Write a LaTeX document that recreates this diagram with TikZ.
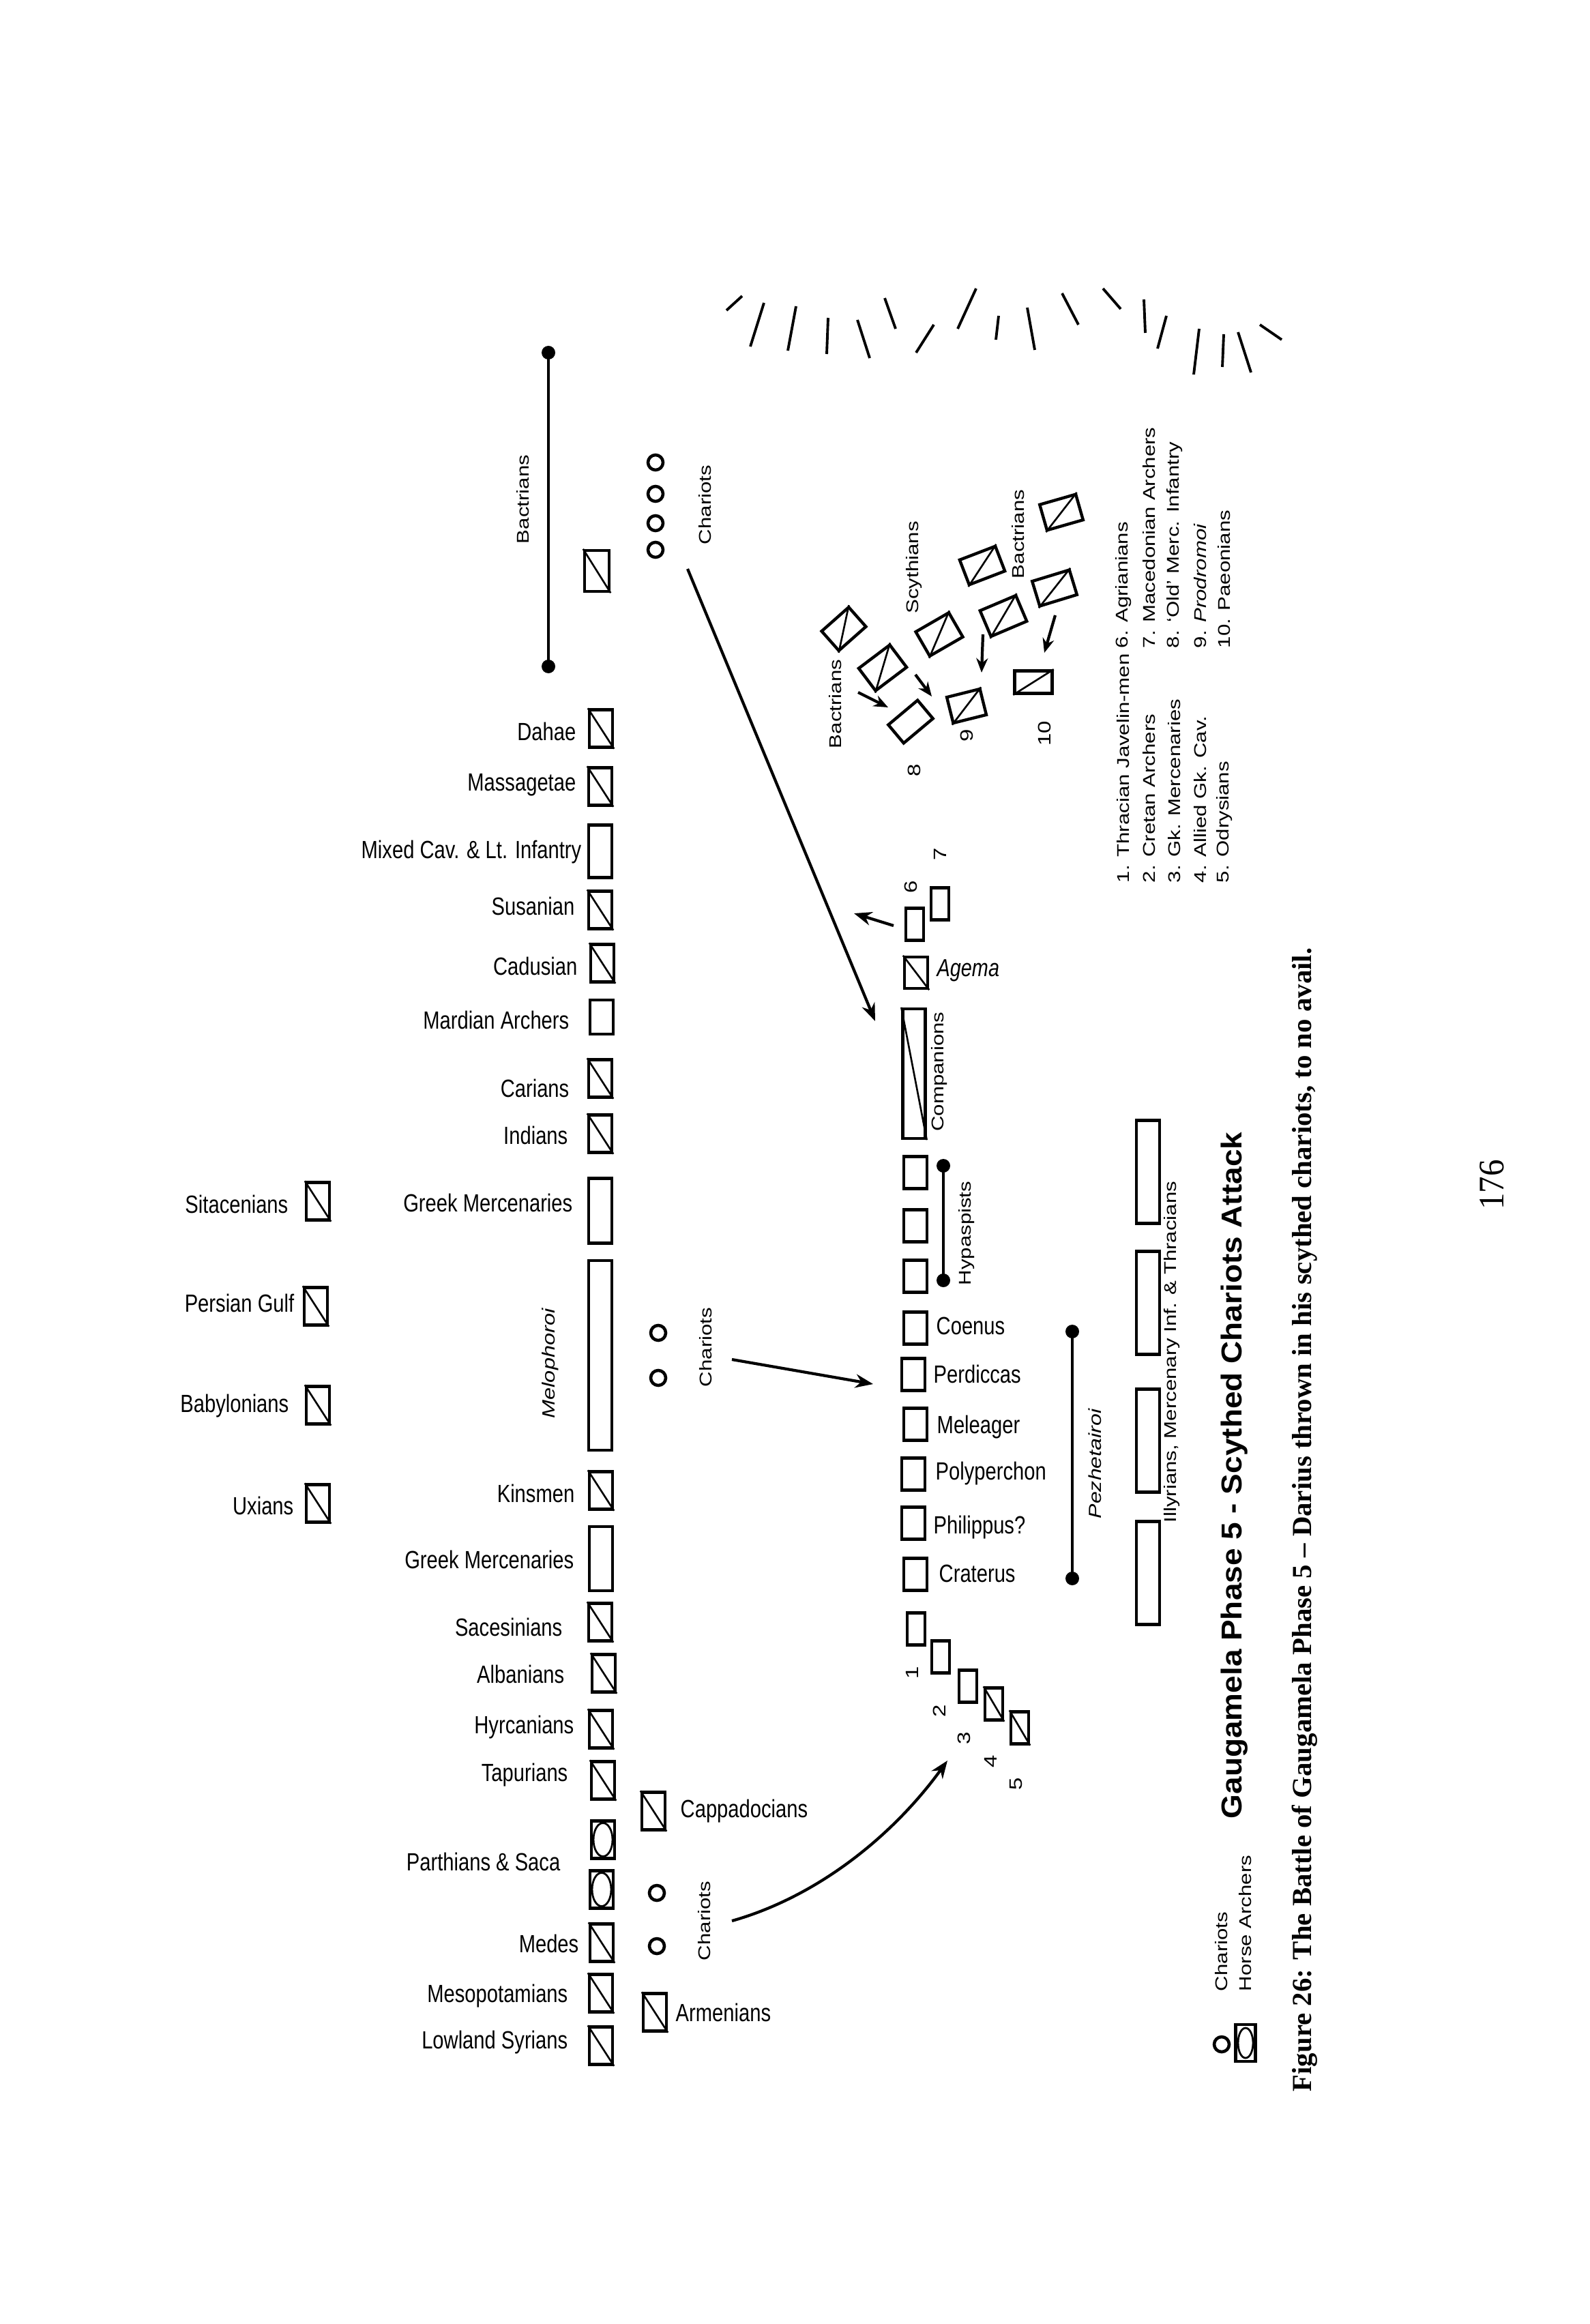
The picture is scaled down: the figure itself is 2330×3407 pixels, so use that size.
\documentclass[tikz,border=0pt]{standalone}
\usepackage{fontspec}
\setmainfont{Liberation Serif}
\setsansfont{Liberation Sans}
\usetikzlibrary{arrows.meta}

\tikzset{
  unit/.style={draw, line width=1.25pt, inner sep=0pt, minimum width=3.4mm, minimum height=5.5mm},
  cav/.style={unit, append after command={(\tikzlastnode.north west) edge[line width=0.75pt] (\tikzlastnode.south east)}},
  cavtilt/.style={unit, append after command={(\tikzlastnode.south west) edge[line width=0.75pt] (\tikzlastnode.north east)}},
  horsearch/.style={unit, path picture={\draw[line width=0.8pt] (path picture bounding box.center) ellipse [x radius=1.4mm, y radius=2.45mm];}},
  foot/.style={unit, minimum width=3.4mm, minimum height=4.7mm},
  light/.style={unit, minimum width=2.6mm, minimum height=4.7mm},
  chariot/.style={draw, circle, line width=1.3pt, minimum size=2.2mm, inner sep=0pt},
  leader/.style={line width=1.2pt},
  lab/.style={font=\sffamily\fontsize{8.3}{10}\selectfont, inner sep=0pt, yscale=1.25},
  vlab/.style={font=\sffamily\fontsize{7.1}{8.5}\selectfont, inner sep=0pt, yscale=1.25, rotate=90},
  num/.style={vlab, font=\sffamily\fontsize{7.5}{9}\selectfont},
}

\begin{document}
\begin{tikzpicture}[x=0.1mm, y=-0.1mm, >={Stealth[length=2.6mm, width=2mm]}]
  \fill[white] (0,0) rectangle (2330,3407);
  \useasboundingbox (0,0) rectangle (2330,3407);

  % Persian left wing
  \coordinate (bac-a) at (804,517);
  \coordinate (bac-b) at (804,977);
  \draw[leader] (bac-a) -- (bac-b);
  \fill (bac-a) circle (1mm) (bac-b) circle (1mm);
  \node[vlab] (l-bac) at (767,732) {Bactrians};
  \node[cav, minimum width=3.6mm, minimum height=6mm] (bac) at (875,837) {};

  \node[chariot] (ch1a) at (961,678) {};
  \node[chariot] (ch1b) at (961,724) {};
  \node[chariot] (ch1c) at (961,767) {};
  \node[chariot] (ch1d) at (961,806) {};
  \node[vlab] (l-ch1) at (1034,740) {Chariots};

  % Persian main line
  \node[cav] (dahae) at (881,1068) {};
  \node[lab, anchor=east] (l-dahae) at (845,1072) {Dahae};
  \node[cav] (massag) at (880,1153) {};
  \node[lab, anchor=east] (l-massag) at (845,1151) {Massagetae};
  \node[unit, minimum height=7.7mm] (mixed) at (880,1248) {};
  \node[lab, anchor=east] (l-mixed) at (853,1249) {Mixed Cav. \& Lt. Infantry};
  \node[cav] (susa) at (880,1334) {};
  \node[lab, anchor=east] (l-susa) at (843,1328) {Susanian};
  \node[cav] (cadus) at (883,1412) {};
  \node[lab, anchor=east] (l-cadus) at (847,1416) {Cadusian};
  \node[unit, minimum height=5mm] (mardi) at (882,1491) {};
  \node[lab, anchor=east] (l-mardi) at (835,1495) {Mardian Archers};
  \node[cav] (caria) at (880,1581) {};
  \node[lab, anchor=east] (l-caria) at (835,1595) {Carians};
  \node[cav] (india) at (880,1662) {};
  \node[lab, anchor=east] (l-india) at (833,1664) {Indians};
  \node[unit, minimum height=9.5mm] (gmerc1) at (880,1775) {};
  \node[lab, anchor=east] (l-gmerc1) at (840,1763) {Greek Mercenaries};
  \node[unit, minimum height=27.8mm] (melo) at (880,1987) {};
  \node[vlab, font=\sffamily\itshape\fontsize{7.4}{9}\selectfont] (l-melo) at (807,1999) {Melophoroi};
  \node[cav] (kins) at (881,2185) {};
  \node[lab, anchor=east] (l-kins) at (843,2189) {Kinsmen};
  \node[unit, minimum height=9.4mm] (gmerc2) at (881,2285) {};
  \node[lab, anchor=east] (l-gmerc2) at (842,2286) {Greek Mercenaries};
  \node[cav] (saces) at (880,2378) {};
  \node[lab, anchor=east] (l-saces) at (825,2385) {Sacesinians};
  \node[cav] (alban) at (885,2453) {};
  \node[lab, anchor=east] (l-alban) at (828,2454) {Albanians};
  \node[cav] (hyrca) at (881,2535) {};
  \node[lab, anchor=east] (l-hyrca) at (842,2532) {Hyrcanians};
  \node[cav] (tapur) at (884,2610) {};
  \node[lab, anchor=east] (l-tapur) at (833,2602) {Tapurians};
  \node[horsearch] (parth1) at (884,2697) {};
  \node[horsearch] (parth2) at (882,2770) {};
  \node[lab, anchor=east] (l-parth) at (822,2729) {Parthians \& Saca};
  \node[cav] (medes) at (882,2848) {};
  \node[lab, anchor=east] (l-medes) at (849,2849) {Medes};
  \node[cav] (mesop) at (881,2922) {};
  \node[lab, anchor=east] (l-mesop) at (833,2926) {Mesopotamians};
  \node[cav] (syria) at (881,2999) {};
  \node[lab, anchor=east] (l-syria) at (833,2994) {Lowland Syrians};

  % Persian second line
  \node[cav] (sitac) at (466,1761) {};
  \node[lab, anchor=east] (l-sitac) at (423,1765) {Sitacenians};
  \node[cav] (pgulf) at (463,1915) {};
  \node[lab, anchor=east] (l-pgulf) at (432,1910) {Persian Gulf};
  \node[cav] (babyl) at (466,2060) {};
  \node[lab, anchor=east] (l-babyl) at (424,2061) {Babylonians};
  \node[cav] (uxian) at (466,2204) {};
  \node[lab, anchor=east] (l-uxian) at (431,2207) {Uxians};

  % Persian right wing
  \node[chariot] (ch2a) at (965,1954) {};
  \node[chariot] (ch2b) at (965,2020) {};
  \node[vlab] (l-ch2) at (1035,1975) {Chariots};
  \node[cav] (capp) at (958,2655) {};
  \node[lab, anchor=west] (l-capp) at (997,2655) {Cappadocians};
  \node[chariot] (ch3a) at (963,2775) {};
  \node[chariot] (ch3b) at (963,2853) {};
  \node[vlab] (l-ch3) at (1033,2816) {Chariots};
  \node[cav] (armen) at (960,2950) {};
  \node[lab, anchor=west] (l-armen) at (990,2950) {Armenians};

  % Macedonian line
  \node[light] (m6) at (1341,1355) {};
  \node[num] (l-m6) at (1335,1300) {6};
  \node[light] (m7) at (1378,1325) {};
  \node[num] (l-m7) at (1378,1252) {7};
  \node[cav, minimum width=3.4mm, minimum height=4.6mm] (agema) at (1343,1426) {};
  \node[lab, anchor=west, font=\sffamily\itshape\fontsize{8.2}{10}\selectfont] (l-agema) at (1373,1423) {Agema};
  \node[cav, minimum width=3.3mm, minimum height=19mm] (comp) at (1340,1574) {};
  \node[vlab] (l-comp) at (1377,1571) {Companions};
  \node[foot] (hyp1) at (1342,1719) {};
  \node[foot] (hyp2) at (1342,1797) {};
  \node[foot] (hyp3) at (1342,1871) {};
  \coordinate (hyp-a) at (1383,1709);
  \coordinate (hyp-b) at (1383,1877);
  \draw[leader] (hyp-a) -- (hyp-b);
  \fill (hyp-a) circle (1mm) (hyp-b) circle (1mm);
  \node[vlab] (l-hyp) at (1417,1808) {Hypaspists};
  \node[foot] (coenus) at (1342,1947) {};
  \node[lab, anchor=west] (l-coenus) at (1372,1944) {Coenus};
  \node[foot] (perd) at (1339,2015) {};
  \node[lab, anchor=west] (l-perd) at (1368,2014) {Perdiccas};
  \node[foot] (mel) at (1342,2088) {};
  \node[lab, anchor=west] (l-mel) at (1373,2092) {Meleager};
  \node[foot] (poly) at (1339,2161) {};
  \node[lab, anchor=west] (l-poly) at (1371,2160) {Polyperchon};
  \node[foot] (phil) at (1339,2233) {};
  \node[lab, anchor=west] (l-phil) at (1368,2239) {Philippus?};
  \node[foot] (crat) at (1342,2308) {};
  \node[lab, anchor=west] (l-crat) at (1376,2307) {Craterus};
  \coordinate (pez-a) at (1572,1952);
  \coordinate (pez-b) at (1572,2314);
  \draw[leader] (pez-a) -- (pez-b);
  \fill (pez-a) circle (1mm) (pez-b) circle (1mm);
  \node[vlab, font=\sffamily\itshape\fontsize{7.3}{9}\selectfont] (l-pez) at (1605,2146) {Pezhetairoi};

  \node[light] (f1) at (1343,2388) {};
  \node[light] (f2) at (1379,2429) {};
  \node[light] (f3) at (1419,2472) {};
  \node[cav, light] (f4) at (1457,2498) {};
  \node[cav, light] (f5) at (1495,2533) {};
  \node[num] (l-f1) at (1337,2452) {1};
  \node[num] (l-f2) at (1377,2508) {2};
  \node[num] (l-f3) at (1413,2548) {3};
  \node[num] (l-f4) at (1452,2582) {4};
  \node[num] (l-f5) at (1490,2615) {5};

  % second line
  \node[unit, minimum height=15.1mm] (ill1) at (1683,1718) {};
  \node[unit, minimum height=15.1mm] (ill2) at (1683,1910) {};
  \node[unit, minimum height=15.1mm] (ill3) at (1683,2112) {};
  \node[unit, minimum height=15.1mm] (ill4) at (1683,2306) {};
  \node[vlab] (l-ill) at (1718,1982) {Illyrians, Mercenary Inf. \& Thracians};

  % right flank fight
  \node[cavtilt, minimum width=5.3mm, minimum height=3.8mm, rotate=41.5] (bac1) at (1237,922) {};
  \node[cavtilt, minimum width=5.7mm, minimum height=4.1mm, rotate=37] (bac2) at (1294,979) {};
  \node[unit, minimum width=5.6mm, minimum height=3.5mm, rotate=40] (m8) at (1335,1058) {};
  \node[cavtilt, minimum width=5.6mm, minimum height=4.1mm, rotate=30] (scy1) at (1377,930) {};
  \node[cavtilt, minimum width=5.0mm, minimum height=3.9mm, rotate=14] (m9) at (1417,1035) {};
  \node[cavtilt, minimum width=5.7mm, minimum height=4.1mm, rotate=23] (scy2) at (1471,903) {};
  \node[cavtilt, minimum width=5.6mm, minimum height=3.9mm, rotate=21] (scy3) at (1440,829) {};
  \node[cavtilt, minimum width=5.7mm, minimum height=3.8mm, rotate=17] (bac3) at (1546,862) {};
  \node[cavtilt, minimum width=5.5mm, minimum height=3.9mm, rotate=16] (bac4) at (1556,751) {};
  \node[cavtilt, minimum width=5.5mm, minimum height=3.3mm] (m10) at (1515,1000) {};
  \node[vlab] (l-bac1) at (1225,1032) {Bactrians};
  \node[vlab] (l-scy) at (1340,832) {Scythians};
  \node[vlab] (l-bac3) at (1493,783) {Bactrians};
  \node[num] (l-m8) at (1340,1129) {8};
  \node[num] (l-m9) at (1417,1078) {9};
  \node[num] (l-m10) at (1531,1075) {10};

  % chariot attacks
  \coordinate (a-ch1) at (1008,834);
  \coordinate (a-comp) at (1283,1497);
  \draw[->, leader] (a-ch1) -- (a-comp);
  \coordinate (a-ch2) at (1073,1993);
  \coordinate (a-perd) at (1280,2029);
  \draw[->, leader] (a-ch2) -- (a-perd);
  \coordinate (a-ch3) at (1073,2816);
  \coordinate (a-front) at (1389,2581);
  \draw[->, leader] (a-ch3) .. controls (1200,2780) and (1310,2690) .. (a-front);
  \coordinate (a-m6) at (1310,1357);
  \coordinate (a-m6e) at (1252,1339);
  \draw[->, leader] (a-m6) -- (a-m6e);

  \coordinate (s1a) at (1258,1015); \coordinate (s1b) at (1302,1037);
  \coordinate (s2a) at (1342,989);  \coordinate (s2b) at (1366,1021);
  \coordinate (s3a) at (1441,930);  \coordinate (s3b) at (1439,986);
  \coordinate (s4a) at (1547,902);  \coordinate (s4b) at (1531,957);
  \draw[-{Stealth[length=2.1mm, width=1.7mm]}, leader] (s1a) -- (s1b);
  \draw[-{Stealth[length=2.1mm, width=1.7mm]}, leader] (s2a) -- (s2b);
  \draw[-{Stealth[length=2.1mm, width=1.7mm]}, leader] (s3a) -- (s3b);
  \draw[-{Stealth[length=2.1mm, width=1.7mm]}, leader] (s4a) -- (s4b);

  % dust
  \draw[line width=1.1pt]
    (1065,455) -- (1088,434)  (1100,508) -- (1120,444)  (1155,514) -- (1167,449)
    (1212,519) -- (1214,466)  (1257,469) -- (1275,525)  (1297,437) -- (1313,482)
    (1343,517) -- (1369,476)  (1404,482) -- (1431,423)  (1460,498) -- (1464,463)
    (1506,451) -- (1517,513)  (1557,430) -- (1581,476)  (1617,423) -- (1643,453)
    (1677,439) -- (1679,488)  (1697,511) -- (1710,463)  (1750,549) -- (1758,482)
    (1792,538) -- (1794,490)  (1815,487) -- (1834,546)  (1847,476) -- (1879,498);

  % key
  \node[vlab, anchor=west] (k1) at (1647,1295) {1. Thracian Javelin-men};
  \node[vlab, anchor=west] (k2) at (1685,1295) {2. Cretan Archers};
  \node[vlab, anchor=west] (k3) at (1722,1295) {3. Gk. Mercenaries};
  \node[vlab, anchor=west] (k4) at (1760,1295) {4. Allied Gk. Cav.};
  \node[vlab, anchor=west] (k5) at (1795,1295) {5. Odrysians};
  \node[vlab, anchor=west] (k6) at (1647,951) {6. Agrianians};
  \node[vlab, anchor=west] (k7) at (1685,951) {7. Macedonian Archers};
  \node[vlab, anchor=west] (k8) at (1722,951) {8. `Old' Merc. Infantry};
  \node[vlab, anchor=west] (k9) at (1760,951) {9. \textit{Prodromoi}};
  \node[vlab, anchor=west] (k10) at (1795,951) {10. Paeonians};

  \node[chariot] (key-ch) at (1791,2997) {};
  \node[vlab, anchor=west] (l-key-ch) at (1791,2920) {Chariots};
  \node[horsearch, minimum width=2.9mm, minimum height=5.4mm,
        path picture={\draw[line width=0.8pt] (path picture bounding box.center) ellipse [x radius=1.1mm, y radius=2.2mm];}] (key-ha) at (1826,2995) {};
  \node[vlab, anchor=west] (l-key-ha) at (1826,2920) {Horse Archers};

  \node[font=\sffamily\bfseries\fontsize{12}{14}\selectfont, inner sep=0pt, yscale=1.09, rotate=90, anchor=west] (title) at (1810,2667) {Gaugamela Phase 5 - Scythed Chariots Attack};
  \node[font=\rmfamily\bfseries\fontsize{11.5}{14}\selectfont, inner sep=0pt, yscale=1.01, rotate=90, anchor=west] (caption) at (1913,3067) {Figure 26: The Battle of Gaugamela Phase 5 -- Darius thrown in his scythed chariots, to no avail.};
  \node[font=\rmfamily\fontsize{15}{17}\selectfont, inner sep=0pt, yscale=0.93, rotate=90] (page) at (2187,1737) {176};
\end{tikzpicture}
\end{document}
